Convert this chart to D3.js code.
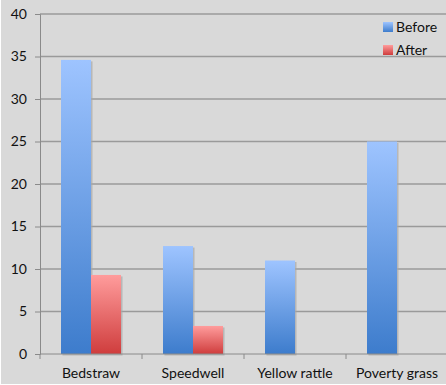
<!DOCTYPE html>
<html>
<head>
<meta charset="utf-8">
<script src="https://cdn.jsdelivr.net/npm/d3@7"></script>
<style>
  body { margin: 0; background: #fff; }
  svg { display: block; }
  text { font-family: Lato, "Open Sans", sans-serif; fill: #111; }
</style>
</head>
<body>
<div id="chart"></div>
<script>
// ----------------------
// Data
// ----------------------
const categories = ["Bedstraw", "Speedwell", "Yellow rattle", "Poverty grass"];
const seriesNames = ["Before", "After"];
const beforeValues = [34.6, 12.7, 11, 25];
const afterValues = [9.3, 3.3, 0, 0];
const yTicks = [0, 5, 10, 15, 20, 25, 30, 35, 40];

const W = 446, H = 385;
const margin = { top: 14, right: -2, bottom: 31, left: 40 };
const width = W - margin.left - margin.right;
const height = H - margin.top - margin.bottom;

const svg = d3.select("#chart").append("svg")
    .attr("width", W)
    .attr("height", H);

// background
svg.append("rect")
    .attr("x", 1).attr("y", 0)
    .attr("width", W - 1).attr("height", H - 1)
    .attr("fill", "#d9d9d9");

// gradients
const defs = svg.append("defs");
const grads = [
    { id: "gBefore", top: "#9ec4ff", bottom: "#3d7ccc" },
    { id: "gAfter", top: "#ff9c9c", bottom: "#cf3d3d" }
];
grads.forEach(d => {
    const lg = defs.append("linearGradient")
        .attr("id", d.id)
        .attr("x1", 0).attr("y1", 0).attr("x2", 0).attr("y2", 1);
    lg.append("stop").attr("offset", "0%").attr("stop-color", d.top);
    lg.append("stop").attr("offset", "100%").attr("stop-color", d.bottom);
});

const g = svg.append("g")
    .attr("transform", `translate(${margin.left},${margin.top})`);

// ----------------------
// Scales
// ----------------------
const x = d3.scaleBand()
    .domain(categories)
    .range([0, width])
    .padding(0);

const y = d3.scaleLinear()
    .domain([0, 40])
    .range([height, 0]);

const barW = 30;

// gridlines
g.append("g")
    .selectAll("line")
    .data(yTicks.filter(t => t > 0))
    .join("line")
    .attr("x1", 0).attr("x2", width)
    .attr("y1", d => y(d)).attr("y2", d => y(d))
    .attr("stroke", "#9a9a9a")
    .attr("stroke-width", 1.3);

// ----------------------
// Bars
// ----------------------
const rows = categories.map((c, i) => ({ cat: c, vals: [beforeValues[i], afterValues[i]] }));

const groups = g.selectAll(".grp")
    .data(rows)
    .join("g")
    .attr("class", "grp")
    .attr("transform", d => `translate(${x(d.cat) + x.bandwidth() / 2 - barW},0)`);

// shadow
groups.selectAll(".shadow")
    .data(d => d.vals.map((v, k) => ({ v, k })).filter(e => e.v > 0))
    .join("rect")
    .attr("class", "shadow")
    .attr("x", e => e.k * barW + 1.5)
    .attr("y", e => y(e.v) + 1.5)
    .attr("width", barW)
    .attr("height", e => y(0) - y(e.v))
    .attr("fill", "#a8a8a8")
    .attr("opacity", 0.7);

groups.selectAll(".bar")
    .data(d => d.vals.map((v, k) => ({ v, k })).filter(e => e.v > 0))
    .join("rect")
    .attr("class", "bar")
    .attr("x", e => e.k * barW)
    .attr("y", e => y(e.v))
    .attr("width", barW)
    .attr("height", e => y(0) - y(e.v))
    .attr("fill", e => e.k === 0 ? "url(#gBefore)" : "url(#gAfter)");

// ----------------------
// Axes
// ----------------------
const yAxis = g.append("g")
    .call(d3.axisLeft(y).tickValues(yTicks).tickSize(5).tickPadding(8));
yAxis.select(".domain").attr("stroke", "#8a8a8a");
yAxis.selectAll(".tick line").attr("stroke", "#8a8a8a");
yAxis.selectAll("text").style("font-size", "14px").attr("fill", "#111");

const xAxis = g.append("g")
    .attr("transform", `translate(0,${height})`);
xAxis.append("line")
    .attr("x1", 0).attr("x2", width)
    .attr("stroke", "#8a8a8a");
xAxis.selectAll(".tk")
    .data(categories)
    .join("line")
    .attr("x1", d => x(d)).attr("x2", d => x(d))
    .attr("y1", 0).attr("y2", 5)
    .attr("stroke", "#8a8a8a");
xAxis.selectAll(".lbl")
    .data(categories)
    .join("text")
    .attr("x", d => x(d) + x.bandwidth() / 2)
    .attr("y", 24)
    .attr("text-anchor", "middle")
    .style("font-size", "14px")
    .text(d => d);

// ----------------------
// Legend
// ----------------------
const legend = svg.append("g")
    .attr("transform", "translate(383,22)");
seriesNames.forEach((s, i) => {
    const row = legend.append("g").attr("transform", `translate(0,${i * 23})`);
    row.append("rect")
        .attr("width", 10).attr("height", 10)
        .attr("fill", i === 0 ? "url(#gBefore)" : "url(#gAfter)");
    row.append("text")
        .attr("x", 13).attr("y", 10)
        .style("font-size", "14px")
        .text(s);
});
</script>
</body>
</html>
